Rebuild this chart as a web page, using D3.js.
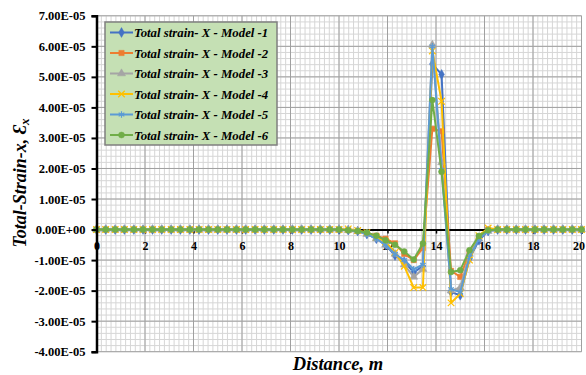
<!DOCTYPE html>
<html>
<head>
<meta charset="utf-8">
<script src="https://cdn.jsdelivr.net/npm/d3@7"></script>
<style>
  body { margin: 0; background: #fff; }
  svg text { font-family: "Liberation Serif", "Times New Roman", serif; font-weight: bold; }
</style>
</head>
<body>
<svg id="chart" width="586" height="375"></svg>
<script>
// Total strain along distance, six models. Strain values in units of 1e-5.

const distance = [0, 0.38, 0.77, 1.15, 1.54, 1.92, 2.31, 2.69, 3.08, 3.46, 3.85, 4.23, 4.62, 5.00,
  5.38, 5.77, 6.15, 6.54, 6.92, 7.31, 7.69, 8.08, 8.46, 8.85, 9.23, 9.62, 10.00, 10.38, 10.77,
  11.15, 11.54, 11.92, 12.31, 12.69, 13.08, 13.46, 13.85, 14.23, 14.62, 15.00, 15.38, 15.77,
  16.15, 16.54, 16.92, 17.31, 17.69, 18.08, 18.46, 18.85, 19.23, 19.62, 20.00];

const model1 = [0, 0, 0, 0, 0, 0, 0, 0, 0, 0, 0, 0, 0, 0, 0, 0, 0, 0, 0, 0, 0, 0, 0, 0, 0, 0, 0,
  -0.02, -0.05, -0.15, -0.3, -0.5, -0.85, -1.05, -1.4, -1.2, 5.42, 5.08, -2.05, -2.15, -0.95, -0.35, -0.05,
  0, 0, 0, 0, 0, 0, 0, 0, 0, 0];
const model2 = [0, 0, 0, 0, 0, 0, 0, 0, 0, 0, 0, 0, 0, 0, 0, 0, 0, 0, 0, 0, 0, 0, 0, 0, 0, 0, 0,
  -0.02, -0.05, -0.1, -0.2, -0.3, -0.45, -0.8, -1.0, -0.6, 3.3, 3.22, -1.35, -1.55, -0.75, -0.25, 0,
  0, 0, 0, 0, 0, 0, 0, 0, 0, 0];
const model3 = [0, 0, 0, 0, 0, 0, 0, 0, 0, 0, 0, 0, 0, 0, 0, 0, 0, 0, 0, 0, 0, 0, 0, 0, 0, 0, 0,
  -0.02, -0.05, -0.15, -0.3, -0.5, -0.8, -1.15, -1.55, -1.3, 6.05, 2.2, -2.0, -1.9, -0.8, -0.3, -0.05,
  0, 0, 0, 0, 0, 0, 0, 0, 0, 0];
const model4 = [0, 0, 0, 0, 0, 0, 0, 0, 0, 0, 0, 0, 0, 0, 0, 0, 0, 0, 0, 0, 0, 0, 0, 0, 0, 0, 0,
  0.02, -0.03, -0.1, -0.25, -0.4, -0.75, -1.2, -1.9, -1.9, 5.85, 4.2, -2.4, -2.1, -1.0, -0.2, 0.05,
  0, 0, 0, 0, 0, 0, 0, 0, 0, 0];
const model5 = [0, 0, 0, 0, 0, 0, 0, 0, 0, 0, 0, 0, 0, 0, 0, 0, 0, 0, 0, 0, 0, 0, 0, 0, 0, 0, 0,
  -0.02, -0.05, -0.15, -0.3, -0.5, -0.8, -1.0, -1.3, -1.15, 6.0, 1.95, -1.95, -2.05, -0.9, -0.3, -0.05,
  0, 0, 0, 0, 0, 0, 0, 0, 0, 0];
const model6 = [0, 0, 0, 0, 0, 0, 0, 0, 0, 0, 0, 0, 0, 0, 0, 0, 0, 0, 0, 0, 0, 0, 0, 0, 0, 0, 0,
  -0.02, -0.05, -0.1, -0.2, -0.35, -0.5, -0.72, -0.98, -0.46, 4.24, 1.89, -1.39, -1.33, -0.68, -0.21, -0.02,
  0, 0, 0, 0, 0, 0, 0, 0, 0, 0];

const seriesNames = ['Total strain- X - Model -1', 'Total strain- X - Model -2', 'Total strain- X - Model -3',
  'Total strain- X - Model -4', 'Total strain- X - Model -5', 'Total strain- X - Model -6'];
const seriesColors = ['#4472c4', '#ed7d31', '#a5a5a5', '#ffc000', '#5b9bd5', '#70ad47'];
const seriesSymbols = [d3.symbolDiamond, d3.symbolSquare, d3.symbolTriangle, d3.symbolTimes, d3.symbolAsterisk, d3.symbolCircle];
const strokeSymbols = [false, false, false, true, true, false];

const xTicks = [0, 2, 4, 6, 8, 10, 12, 14, 16, 18, 20];
const yTicks = [-4, -3, -2, -1, 0, 1, 2, 3, 4, 5, 6, 7];
const yTickLabels = ['-4.00E-05', '-3.00E-05', '-2.00E-05', '-1.00E-05', '0.00E+00', '1.00E-05',
  '2.00E-05', '3.00E-05', '4.00E-05', '5.00E-05', '6.00E-05', '7.00E-05'];

const allSeries = [model1, model2, model3, model4, model5, model6].map((vals, i) => ({
  name: seriesNames[i], color: seriesColors[i], symbol: seriesSymbols[i], stroke: strokeSymbols[i],
  points: vals.map((v, j) => ({ x: distance[j], y: v }))
}));

const svg = d3.select('#chart');
const x = d3.scaleLinear().domain([0, 20]).range([96.5, 581.5]);
const y = d3.scaleLinear().domain([-4, 7]).range([351.7, 15.8]);

// grid: minor then major
const grid = svg.append('g');
grid.selectAll('.vmin').data(d3.range(0, 20.001, 0.2)).enter().append('line')
  .attr('x1', d => x(d)).attr('x2', d => x(d)).attr('y1', y(7)).attr('y2', y(-4))
  .attr('stroke', '#d6d6d6').attr('stroke-width', 1);
grid.selectAll('.hmin').data(d3.range(-4, 7.001, 0.2)).enter().append('line')
  .attr('x1', x(0)).attr('x2', x(20)).attr('y1', d => y(d)).attr('y2', d => y(d))
  .attr('stroke', '#d6d6d6').attr('stroke-width', 1);
grid.selectAll('.vmaj').data(xTicks).enter().append('line')
  .attr('x1', d => x(d)).attr('x2', d => x(d)).attr('y1', y(7)).attr('y2', y(-4))
  .attr('stroke', '#a0a0a0').attr('stroke-width', 1);
grid.selectAll('.hmaj').data(yTicks).enter().append('line')
  .attr('x1', x(0)).attr('x2', x(20)).attr('y1', d => y(d)).attr('y2', d => y(d))
  .attr('stroke', '#a0a0a0').attr('stroke-width', 1);

// x axis sits on the zero line
const xAxis = svg.append('g')
  .attr('transform', `translate(0,${y(0)})`)
  .call(d3.axisBottom(x).tickValues(xTicks).tickFormat(d3.format('d')).tickSize(4).tickPadding(7.5));
xAxis.select('.domain').attr('stroke', '#000').attr('stroke-width', 2);
xAxis.selectAll('.tick line').attr('stroke', '#000').attr('stroke-width', 1.5);
xAxis.selectAll('text').attr('fill', '#000').style('font-size', '12px')
  .style('font-family', '"Liberation Serif", serif');
// last label sits at the window edge; keep it inside
xAxis.selectAll('.tick').filter(d => d === 20).select('text').attr('dx', -3);

// series
const line = d3.line().x(d => x(d.x)).y(d => y(d.y));
const plot = svg.append('g');
allSeries.forEach(s => {
  plot.append('path').datum(s.points)
    .attr('d', line).attr('fill', 'none')
    .attr('stroke', s.color).attr('stroke-width', 2).attr('stroke-linejoin', 'round');
  plot.selectAll(null).data(s.points).enter().append('path')
    .attr('transform', d => `translate(${x(d.x)},${y(d.y)})`)
    .attr('d', d3.symbol().type(s.symbol).size(s.stroke ? 30 : 28))
    .attr('fill', s.stroke ? 'none' : s.color)
    .attr('stroke', s.color).attr('stroke-width', s.stroke ? 1.2 : 0.5);
});

// y axis
const yAxis = svg.append('g')
  .attr('transform', `translate(${x(0)},0)`)
  .call(d3.axisLeft(y).tickValues(yTicks).tickFormat((d, i) => yTickLabels[i]).tickSize(5).tickPadding(6));
yAxis.select('.domain').attr('stroke', '#000').attr('stroke-width', 2.5);
yAxis.selectAll('.tick line').attr('stroke', '#000').attr('stroke-width', 2);
yAxis.selectAll('text').attr('fill', '#000').style('font-size', '12.5px')
  .style('font-family', '"Liberation Serif", serif');

// axis titles
svg.append('text')
  .attr('x', 338).attr('y', 370).attr('text-anchor', 'middle')
  .style('font-size', '18.5px').style('font-style', 'italic')
  .text('Distance, m');

const yTitle = svg.append('text')
  .attr('transform', 'translate(26,183) rotate(-90)').attr('text-anchor', 'middle')
  .style('font-size', '18px').style('font-style', 'italic');
yTitle.append('tspan').text('Total-Strain-x, Ɛ');
yTitle.append('tspan').attr('dy', 3).style('font-size', '13px').text('x');

// legend
const legend = svg.append('g').attr('transform', 'translate(105,22)');
legend.append('rect').attr('width', 172).attr('height', 123)
  .attr('fill', '#c5e0b4').attr('stroke', '#7f7f7f').attr('stroke-width', 1.5);
const items = legend.selectAll('.item').data(allSeries).enter().append('g')
  .attr('transform', (d, i) => `translate(0,${10.5 + i * 20.5})`);
items.append('line').attr('x1', 5).attr('x2', 28)
  .attr('stroke', d => d.color).attr('stroke-width', 2);
items.append('path').attr('transform', 'translate(16.5,0)')
  .attr('d', d => d3.symbol().type(d.symbol).size(d.stroke ? 30 : 28)())
  .attr('fill', d => d.stroke ? 'none' : d.color)
  .attr('stroke', d => d.color).attr('stroke-width', d => d.stroke ? 1.2 : 0.5);
items.append('text').attr('x', 29).attr('y', 4.5)
  .style('font-size', '12.8px').style('font-style', 'italic').attr('fill', '#000')
  .text(d => d.name);
</script>
</body>
</html>
